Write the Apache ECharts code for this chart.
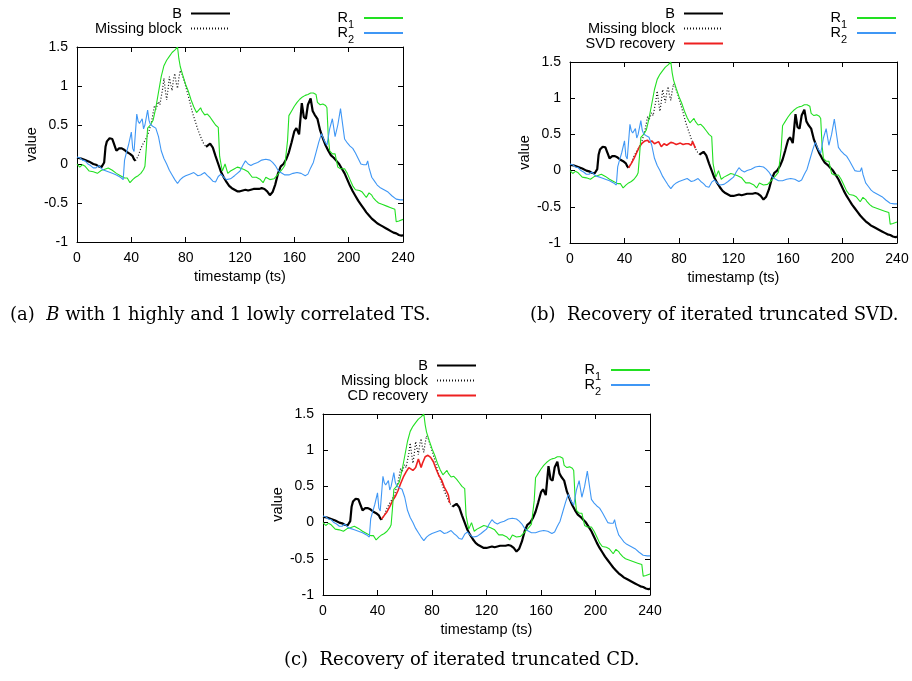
<!DOCTYPE html>
<html>
<head>
<meta charset="utf-8">
<script src="https://cdn.jsdelivr.net/npm/echarts@6/dist/echarts.min.js"></script>
<style>
html, body { margin: 0; padding: 0; background: #fff; }
#chart { width: 912px; height: 681px; }
</style>
</head>
<body>
<div id="chart"></div>
<script>
// x ticks / y ticks
var tsTicks = [0, 40, 80, 120, 160, 200, 240];
var valueTicks = [-1, -0.5, 0, 0.5, 1, 1.5];

// B, before and after the missing block
var seriesB1 = [[0,0.08],[3,0.07],[6,0.05],[9,0.03],[12,0.0],[14,-0.01],[16,-0.03],[18,-0.04],[19,-0.03],[20,0.02],[21,0.22],[22,0.29],[24,0.33],[25,0.34],[26,0.32],[27,0.27],[28,0.22],[29,0.17],[30,0.16],[31,0.2],[32,0.22],[33,0.2],[35,0.18],[37,0.15],[39,0.13],[41,0.1],[42,0.06],[43,0.04]];
var seriesB2 = [[95,0.22],[96,0.2],[98,0.26],[100,0.21],[102,0.1],[104,0.0],[106,-0.1],[108,-0.17],[110,-0.23],[112,-0.28],[114,-0.31],[116,-0.33],[118,-0.35],[120,-0.35],[122,-0.34],[124,-0.33],[126,-0.34],[128,-0.33],[130,-0.32],[132,-0.32],[134,-0.32],[136,-0.31],[138,-0.32],[140,-0.35],[142,-0.4],[144,-0.36],[146,-0.26],[148,-0.12],[150,-0.03],[152,0.0],[154,0.06],[156,0.15],[158,0.28],[160,0.42],[161.5,0.46],[163.5,0.38],[165.5,0.78],[167,0.6],[168.5,0.58],[170,0.76],[172,0.84],[173.5,0.68],[175,0.63],[177,0.58],[179,0.43],[181,0.33],[183,0.24],[185,0.17],[187,0.11],[189,0.08],[191,0.04],[193,0.0],[195,-0.06],[197,-0.12],[199,-0.2],[201,-0.28],[203,-0.35],[205,-0.41],[207,-0.47],[209,-0.52],[211,-0.57],[213,-0.62],[215,-0.66],[217,-0.7],[219,-0.73],[221,-0.76],[223,-0.78],[225,-0.8],[227,-0.82],[229,-0.84],[231,-0.86],[233,-0.88],[235,-0.89],[237,-0.91],[239,-0.92],[240,-0.91]];

// B values inside the missing block
var missingBlock = [[43,0.04],[45,0.1],[47,0.2],[49,0.27],[51,0.33],[53,0.42],[55,0.55],[56,0.65],[57,0.75],[58,0.7],[59,0.68],[60,0.8],[61,0.76],[62,0.86],[63,0.96],[64,1.1],[65,0.95],[66,0.82],[67,0.95],[68,1.12],[69,1.02],[70,0.94],[71,1.08],[72,1.16],[73,1.04],[74,0.97],[75,1.1],[76,1.2],[77,1.17],[79,1.06],[81,0.93],[83,0.8],[85,0.66],[87,0.55],[89,0.44],[91,0.35],[93,0.27],[95,0.22]];

// recoveries
var svdRecovery = [[43,0.04],[45,0.1],[47,0.17],[49,0.25],[51,0.33],[53,0.38],[55,0.41],[57,0.42],[58,0.39],[59,0.38],[60,0.41],[62,0.37],[63,0.35],[65,0.4],[67,0.33],[69,0.37],[71,0.35],[72,0.34],[74,0.39],[76,0.38],[78,0.36],[79,0.35],[81,0.38],[83,0.36],[85,0.37],[87,0.37],[89,0.35],[90,0.4],[92,0.31]];
var cdRecovery = [[43,0.05],[45,0.1],[47,0.15],[49,0.22],[51,0.3],[53,0.36],[55,0.44],[57,0.54],[59,0.63],[61,0.7],[63,0.76],[64,0.78],[66,0.72],[68,0.76],[69,0.82],[70,0.88],[71,0.9],[72,0.76],[73,0.82],[75,0.91],[77,0.93],[79,0.9],[81,0.84],[83,0.74],[85,0.65],[87,0.59],[89,0.49],[91,0.42],[92,0.38],[93,0.27]];

// highly correlated reference
var seriesR1 = [[0,0.0],[2,-0.04],[4,-0.01],[6,-0.03],[9,-0.09],[12,-0.1],[15,-0.12],[18,-0.08],[20,-0.07],[23,-0.05],[26,-0.08],[29,-0.12],[32,-0.15],[35,-0.18],[37,-0.18],[39,-0.24],[41,-0.2],[43,-0.17],[45,-0.15],[47,-0.12],[49,-0.07],[50,-0.03],[51,0.2],[52,0.46],[54,0.5],[56,0.56],[58,0.72],[60,0.92],[62,1.12],[64,1.26],[66,1.33],[68,1.38],[70,1.43],[72,1.46],[73,1.47],[74,1.5],[75,1.35],[76,1.25],[78,1.13],[80,1.02],[82,0.93],[84,0.82],[86,0.73],[88,0.66],[89,0.64],[91,0.72],[92,0.68],[94,0.63],[96,0.64],[98,0.6],[100,0.55],[102,0.5],[104,0.47],[105,0.1],[106,0.0],[107,-0.09],[109,0.0],[111,-0.12],[113,-0.09],[116,-0.06],[118,-0.04],[120,-0.05],[123,-0.07],[126,-0.1],[129,-0.17],[132,-0.17],[135,-0.2],[137,-0.24],[139,-0.17],[142,-0.2],[145,-0.19],[148,-0.13],[151,-0.07],[153,-0.02],[155,0.3],[156,0.62],[158,0.68],[160,0.74],[162,0.79],[164,0.83],[166,0.86],[168,0.88],[170,0.89],[172,0.91],[174,0.91],[176,0.89],[177,0.79],[179,0.76],[181,0.77],[183,0.75],[184,0.72],[185,0.35],[186,0.17],[188,0.13],[190,0.13],[191,0.11],[192,-0.04],[194,-0.06],[197,-0.06],[199,-0.12],[201,-0.2],[203,-0.28],[205,-0.33],[208,-0.34],[210,-0.36],[213,-0.43],[215,-0.37],[217,-0.4],[218,-0.43],[220,-0.47],[222,-0.5],[225,-0.52],[228,-0.54],[231,-0.56],[234,-0.58],[235,-0.74],[237,-0.73],[240,-0.71]];

// lowly correlated reference
var seriesR2 = [[0,0.09],[2,0.08],[4,0.05],[6,0.04],[8,0.0],[10,-0.02],[12,-0.05],[14,-0.05],[16,-0.02],[18,-0.06],[20,-0.08],[23,-0.1],[26,-0.12],[29,-0.14],[32,-0.17],[34,-0.2],[35,0.05],[36,0.12],[38,0.25],[40,0.41],[41,0.2],[42,0.16],[43,0.4],[44,0.64],[45,0.55],[46,0.52],[48,0.58],[49,0.45],[50,0.5],[52,0.69],[53,0.56],[54,0.51],[56,0.48],[58,0.46],[60,0.35],[62,0.17],[64,0.07],[66,0.0],[68,-0.08],[70,-0.14],[72,-0.2],[74,-0.25],[76,-0.2],[78,-0.17],[80,-0.15],[83,-0.13],[86,-0.11],[89,-0.15],[91,-0.14],[94,-0.11],[96,-0.15],[98,-0.18],[100,-0.22],[102,-0.23],[104,-0.16],[106,-0.13],[108,-0.17],[110,-0.2],[113,-0.19],[116,-0.15],[118,-0.12],[120,-0.09],[122,-0.02],[124,0.04],[126,0.0],[128,-0.02],[130,0.0],[133,0.02],[136,0.05],[139,0.06],[142,0.05],[144,0.02],[146,-0.02],[148,-0.08],[150,-0.11],[153,-0.14],[156,-0.14],[159,-0.12],[162,-0.11],[165,-0.12],[168,-0.15],[170,-0.13],[172,-0.05],[174,0.02],[176,0.15],[178,0.28],[180,0.39],[182,0.3],[184,0.24],[186,0.45],[188,0.58],[190,0.35],[192,0.5],[194,0.71],[196,0.45],[197,0.32],[199,0.27],[201,0.23],[203,0.2],[205,0.14],[207,0.07],[209,0.0],[211,-0.01],[213,-0.01],[214,0.04],[215,-0.05],[217,-0.17],[219,-0.22],[221,-0.27],[223,-0.3],[226,-0.33],[229,-0.36],[232,-0.41],[235,-0.45],[238,-0.46],[240,-0.46]];

var chart = echarts.init(document.getElementById('chart'));

var sans = 'Liberation Sans';
var serif = 'DejaVu Serif';
var cBlack = '#000000', cGreen = '#22e022', cBlue = '#3f97f5', cRed = '#ee2020';

// plot boxes: a, b, c
var grids = [
    {left: 77, top: 47, width: 326, height: 195},
    {left: 570, top: 62, width: 327, height: 181},
    {left: 323, top: 414, width: 327, height: 181}
];

var xAxes = [], yAxes = [], series = [], legends = [];

function axisBase() {
    return {
        type: 'value',
        axisLine: {show: true, onZero: false, lineStyle: {color: '#000', width: 1}},
        axisTick: {show: true, inside: true, length: 5, lineStyle: {color: '#000'}},
        splitLine: {show: false}
    };
}

for (var g = 0; g < 3; g++) {
    var xb = axisBase();
    xb.gridIndex = g; xb.position = 'bottom';
    xb.min = tsTicks[0]; xb.max = tsTicks[tsTicks.length - 1]; xb.interval = 40;
    xb.name = 'timestamp (ts)'; xb.nameLocation = 'middle'; xb.nameGap = 27;
    xb.nameTextStyle = {fontFamily: sans, fontSize: 14.5, color: '#000'};
    xb.axisLabel = {margin: 9, fontFamily: sans, fontSize: 14, color: '#000'};
    var xt = axisBase();
    xt.gridIndex = g; xt.position = 'top';
    xt.min = 0; xt.max = 240; xt.interval = 40;
    xt.axisLabel = {show: false};
    xAxes.push(xb, xt);

    var yl = axisBase();
    yl.gridIndex = g; yl.position = 'left';
    yl.min = valueTicks[0]; yl.max = valueTicks[valueTicks.length - 1]; yl.interval = 0.5;
    yl.name = 'value'; yl.nameLocation = 'middle'; yl.nameGap = 36; yl.nameRotate = 90;
    yl.nameTextStyle = {fontFamily: sans, fontSize: 14.5, color: '#000'};
    yl.axisLabel = {margin: 9, fontFamily: sans, fontSize: 14, color: '#000'};
    var yr = axisBase();
    yr.gridIndex = g; yr.position = 'right';
    yr.min = -1; yr.max = 1.5; yr.interval = 0.5;
    yr.axisLabel = {show: false};
    yAxes.push(yl, yr);

    function line(name, data, color, width, type) {
        series.push({
            name: name, type: 'line', data: data,
            xAxisIndex: 2 * g, yAxisIndex: 2 * g,
            symbol: 'none', animation: false, silent: true,
            lineStyle: {color: color, width: width, type: type || 'solid'},
            itemStyle: {color: color}
        });
    }
    line('B', seriesB1, cBlack, 2.2);
    line('B', seriesB2, cBlack, 2.2);
    line('Missing block', missingBlock, '#111', 1.2, [1, 2]);
    if (g == 1) line('SVD recovery', svdRecovery, cRed, 1.6);
    if (g == 2) line('CD recovery', cdRecovery, cRed, 1.6);
    line('R1', seriesR1, cGreen, 1.1);
    line('R2', seriesR2, cBlue, 1.1);
}

// gnuplot-like keys: text right aligned, sample line after it
function key(name, iconRight, midY) {
    legends.push({
        data: [name],
        orient: 'vertical', align: 'right',
        right: 912 - iconRight, top: midY - 7,
        padding: 0, itemWidth: 39, itemHeight: 14,
        selectedMode: false,
        itemStyle: {opacity: 0},
        formatter: function(n) {
            if (n.charAt(0) == 'R') return '{r|R}{s|' + n.charAt(1) + '}';
            return '{t|' + n + '}';
        },
        textStyle: {
            fontFamily: sans, fontSize: 14.5, color: '#000',
            rich: {
                t: {fontFamily: sans, fontSize: 14.5, color: '#000', lineHeight: 14, padding: [0, 4, 0, 0]},
                r: {fontFamily: sans, fontSize: 14.5, color: '#000', lineHeight: 14},
                s: {fontFamily: sans, fontSize: 11, color: '#000', lineHeight: 11, padding: [13, 5, 0, 0]}
            }
        }
    });
}
key('B', 231, 13); key('Missing block', 231, 28);
key('R1', 404, 13); key('R2', 404, 28);
key('B', 724, 13); key('Missing block', 724, 28); key('SVD recovery', 724, 43);
key('R1', 897, 13); key('R2', 897, 28);
key('B', 477, 365); key('Missing block', 477, 380); key('CD recovery', 477, 395);
key('R1', 651, 365); key('R2', 651, 380);

var capRich = {
    n: {fontFamily: serif, fontSize: 18, fontWeight: 'normal', color: '#000'},
    i: {fontFamily: serif, fontSize: 18, fontWeight: 'normal', fontStyle: 'italic', color: '#000'}
};
var titles = [
    {text: '{n|(a)  }{i|B}{n| with 1 highly and 1 lowly correlated TS.}', left: 10, top: 306},
    {text: '{n|(b)  Recovery of iterated truncated SVD.}', left: 530, top: 306},
    {text: '{n|(c)  Recovery of iterated truncated CD.}', left: 284, top: 651}
];
titles.forEach(function(t) { t.padding = 0; t.textStyle = {fontWeight: 'normal', rich: capRich}; });

chart.setOption({
    animation: false,
    backgroundColor: '#fff',
    title: titles,
    grid: grids,
    xAxis: xAxes,
    yAxis: yAxes,
    legend: legends,
    series: series
});
</script>
</body>
</html>
